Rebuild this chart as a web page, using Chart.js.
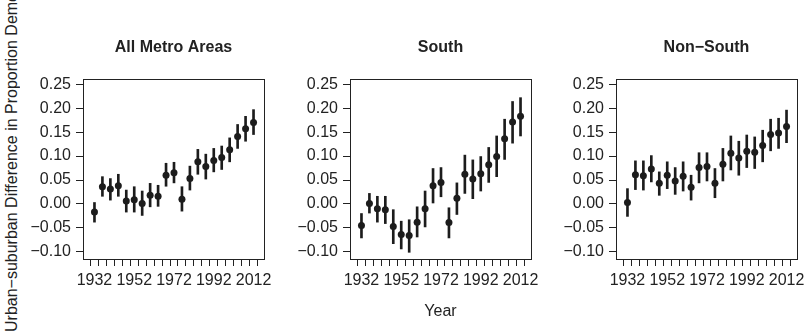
<!DOCTYPE html>
<html>
<head>
<meta charset="utf-8">
<script src="https://cdn.jsdelivr.net/npm/chart.js@4.4.1/dist/chart.umd.min.js"></script>
<style>
  html, body { margin: 0; padding: 0; background: #fff; }
  body { width: 807px; height: 336px; position: relative; overflow: hidden; }
  canvas { position: absolute; top: 0; }
  #ylab {
    position: absolute; left: 3px; top: -200px; height: 532px; width: 19px;
    line-height: 19px; font: 16px 'Liberation Sans', Arial, sans-serif; color: #222;
    writing-mode: vertical-rl; transform: rotate(180deg); white-space: nowrap;
    text-align: left;
  }
</style>
</head>
<body>
<div id="ylab">Urban−suburban Difference in Proportion Democratic</div>
<canvas id="c1" width="280" height="336" style="left:0px"></canvas>
<canvas id="c2" width="280" height="336" style="left:267px"></canvas>
<canvas id="c3" width="280" height="336" style="left:533px"></canvas>
<script>
const years = [1932, 1936, 1940, 1944, 1948, 1952, 1956, 1960, 1964, 1968, 1972,
               1976, 1980, 1984, 1988, 1992, 1996, 2000, 2004, 2008, 2012];
const labeledYears = [1932, 1952, 1972, 1992, 2012];
const yTicks = [-0.10, -0.05, 0, 0.05, 0.10, 0.15, 0.20, 0.25];

// All Metro Areas
const allMid = [-0.017, 0.036, 0.031, 0.038, 0.006, 0.009, 0.001, 0.018, 0.016, 0.060, 0.065,
                0.010, 0.053, 0.088, 0.078, 0.091, 0.097, 0.113, 0.141, 0.157, 0.170];
const allLo = [-0.038, 0.016, 0.008, 0.016, -0.017, -0.017, -0.024, -0.006, -0.005, 0.037, 0.044,
               -0.015, 0.029, 0.062, 0.052, 0.067, 0.072, 0.088, 0.116, 0.131, 0.145];
const allHi = [0.003, 0.057, 0.053, 0.062, 0.029, 0.036, 0.027, 0.043, 0.039, 0.085, 0.087,
               0.036, 0.079, 0.114, 0.104, 0.116, 0.121, 0.138, 0.166, 0.183, 0.197];

// South
const southMid = [-0.045, 0.001, -0.010, -0.012, -0.047, -0.064, -0.066, -0.038, -0.010, 0.038, 0.045,
                  -0.039, 0.012, 0.062, 0.052, 0.063, 0.082, 0.099, 0.136, 0.171, 0.183];
const southLo = [-0.071, -0.019, -0.038, -0.041, -0.083, -0.094, -0.101, -0.069, -0.048, 0.002, 0.015,
                 -0.071, -0.022, 0.022, 0.011, 0.027, 0.045, 0.057, 0.093, 0.127, 0.142];
const southHi = [-0.020, 0.022, 0.016, 0.016, -0.012, -0.036, -0.033, -0.006, 0.027, 0.074, 0.076,
                 -0.008, 0.044, 0.102, 0.092, 0.099, 0.118, 0.142, 0.177, 0.214, 0.222];

// Non-South
const nonMid = [0.003, 0.061, 0.059, 0.073, 0.043, 0.060, 0.048, 0.058, 0.035, 0.076, 0.078,
                0.043, 0.083, 0.106, 0.096, 0.110, 0.108, 0.122, 0.145, 0.148, 0.162];
const nonLo = [-0.026, 0.030, 0.029, 0.046, 0.018, 0.032, 0.020, 0.027, 0.008, 0.044, 0.048,
               0.013, 0.048, 0.071, 0.060, 0.076, 0.074, 0.088, 0.111, 0.116, 0.128];
const nonHi = [0.032, 0.090, 0.090, 0.101, 0.067, 0.088, 0.076, 0.088, 0.060, 0.107, 0.107,
               0.074, 0.116, 0.142, 0.131, 0.144, 0.140, 0.154, 0.177, 0.179, 0.196];

Chart.defaults.font.family = "'Liberation Sans', Arial, sans-serif";
Chart.defaults.color = '#222';

const ink = '#1c1c1c';

// frame around the plot region, like R's box()
const boxPlugin = {
    id: 'box',
    afterDraw(chart) {
        const a = chart.chartArea;
        const ctx = chart.ctx;
        ctx.save();
        ctx.strokeStyle = '#222';
        ctx.lineWidth = 1;
        ctx.strokeRect(Math.round(a.left) + 0.5, Math.round(a.top) + 0.5,
                       Math.round(a.right - a.left), Math.round(a.bottom - a.top));
        ctx.restore();
    }
};

window.renderPanel = (canvasId, title, mid, lo, hi, showXTitle) => {
    const ctx = document.getElementById(canvasId);
    new Chart(ctx, {
        type: 'scatter',
        data: {
            datasets: [{
                type: 'scatter',
                data: years.map((x, i) => ({ x: x, y: mid[i] })),
                pointRadius: 3.5,
                pointBackgroundColor: ink,
                pointBorderWidth: 0,
                order: 0
            }, {
                type: 'bar',
                data: years.map((x, i) => ({ x: x, y: [lo[i], hi[i]] })),
                backgroundColor: ink,
                borderWidth: 0,
                barThickness: 2,
                order: 1
            }]
        },
        options: {
            responsive: false,
            animation: false,
            layout: { padding: { left: 0, right: 16, top: 0, bottom: 0 } },
            plugins: {
                legend: { display: false },
                tooltip: { enabled: false },
                title: {
                    display: true,
                    text: title,
                    fullSize: false,
                    color: '#222',
                    font: { size: 16, weight: 'bold' },
                    padding: { top: 38, bottom: 21.8 }
                }
            },
            scales: {
                x: {
                    type: 'linear',
                    min: 1928.4,
                    max: 2015.1,
                    afterBuildTicks: (scale) => { scale.ticks = years.map(v => ({ value: v })); },
                    afterFit: (scale) => { scale.height = 77; },
                    ticks: {
                        autoSkip: false,
                        maxRotation: 0,
                        padding: 5,
                        font: { size: 16 },
                        color: '#222',
                        callback: (v) => labeledYears.includes(v) ? String(v) : ''
                    },
                    grid: { drawOnChartArea: false, drawTicks: true, tickLength: 7, tickColor: '#222' },
                    border: { display: false },
                    title: {
                        display: showXTitle,
                        text: 'Year',
                        color: '#222',
                        font: { size: 16 },
                        padding: { top: 0, bottom: 15 }
                    }
                },
                y: {
                    type: 'linear',
                    min: -0.115,
                    max: 0.261,
                    afterBuildTicks: (scale) => { scale.ticks = yTicks.map(v => ({ value: v })); },
                    afterFit: (scale) => { scale.width = 83; },
                    ticks: {
                        padding: 5,
                        font: { size: 16 },
                        color: '#222',
                        callback: (v) => (v < 0 ? '\u2212' : '') + Math.abs(v).toFixed(2)
                    },
                    grid: { drawOnChartArea: false, drawTicks: true, tickLength: 7, tickColor: '#222' },
                    border: { display: false }
                }
            }
        },
        plugins: [boxPlugin]
    });
};

renderPanel('c1', 'All Metro Areas', allMid, allLo, allHi, false);
renderPanel('c2', 'South', southMid, southLo, southHi, true);
renderPanel('c3', 'Non\u2212South', nonMid, nonLo, nonHi, false);
</script>
</body>
</html>
